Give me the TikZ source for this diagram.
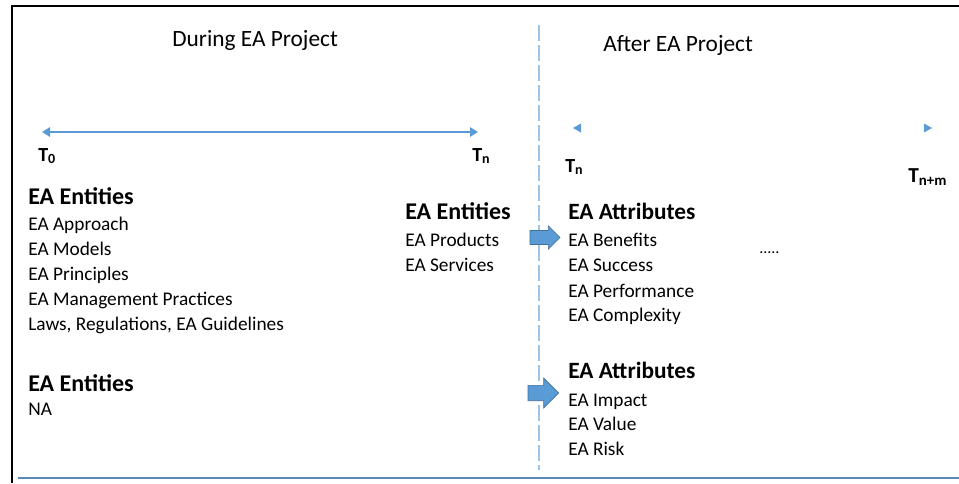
\documentclass[tikz,border=0pt]{standalone}
\usepackage{fontspec}
\setmainfont{Carlito}
\usetikzlibrary{arrows.meta, shapes.arrows}

\definecolor{lineblue}{HTML}{5B9BD5}
\definecolor{edgeblue}{HTML}{41719C}
\definecolor{paleblue}{HTML}{9DC3E6}
\definecolor{baseblue}{HTML}{5A86B8}

\begin{document}
\begin{tikzpicture}[x=0.75pt, y=-0.75pt,
    every node/.style={inner sep=0pt, anchor=base west},
    title/.style={font=\fontsize{17.5}{20}\selectfont},
    head/.style={font=\fontsize{18}{20}\selectfont\bfseries},
    item/.style={font=\fontsize{14.5}{16}\selectfont},
    tlabel/.style={font=\fontsize{15}{16}\selectfont\bfseries},
    bigarrow/.style={single arrow, fill=lineblue, draw=edgeblue, line width=0.5pt, anchor=center, inner xsep=0pt}]
    \useasboundingbox (0,0) rectangle (959,483);

    % frame
    \draw[line width=1.6pt] (12,483) -- (12,6) -- (959,6);
    \draw[baseblue, line width=1.8pt] (18,478) -- (959,478);

    % divider
    \coordinate (dtop) at (539,25);
    \coordinate (dbot) at (539,470);
    \draw[paleblue, line width=1pt, dash pattern=on 12pt off 3pt] (dtop) -- (dbot);

    \node[title] (during) at (172,46) {During EA Project};
    \node[title] (after) at (603,51) {After EA Project};

    % timeline
    \coordinate (a0) at (42,132);
    \coordinate (a1) at (478,132);
    \draw[lineblue, line width=1.6pt, {Triangle[length=6pt, width=7pt]}-{Triangle[length=6pt, width=7pt]}] (a0) -- (a1);
    \fill[lineblue] (573,128) -- (581,123.5) -- (581,132.5) -- cycle;
    \fill[lineblue] (932,128) -- (924,123.5) -- (924,132.5) -- cycle;

    \node[tlabel] (t0) at (38,161) {T\textsubscript{0}};
    \node[tlabel] (tn) at (472,161) {T\textsubscript{n}};
    \node[tlabel] (tm) at (565,172) {T\textsubscript{n}};
    \node[tlabel, font=\fontsize{16}{18}\selectfont\bfseries] (tnm) at (908,182) {T\textsubscript{n+m}};

    % during project
    \node[head] (e1) at (28,204) {EA Entities};
    \node[item] (e11) at (28,230) {EA Approach};
    \node[item] (e12) at (28,255) {EA Models};
    \node[item] (e13) at (28,280) {EA Principles};
    \node[item] (e14) at (28,305) {EA Management Practices};
    \node[item] (e15) at (28,330) {Laws, Regulations, EA Guidelines};

    \node[head] (e2) at (28,391) {EA Entities};
    \node[item] (e21) at (28,415) {NA};

    \node[head] (e3) at (405,219) {EA Entities};
    \node[item] (e31) at (405,246) {EA Products};
    \node[item] (e32) at (405,271) {EA Services};

    % after project
    \node[head, font=\fontsize{17.5}{20}\selectfont\bfseries] (a1h) at (568,219) {EA Attributes};
    \node[item] (a11) at (568,246) {EA Benefits};
    \node[item] (a12) at (568,271) {EA Success};
    \node[item] (a13) at (568,297) {EA Performance};
    \node[item] (a14) at (568,321) {EA Complexity};

    \node[head, font=\fontsize{17.5}{20}\selectfont\bfseries] (a2h) at (568,378) {EA Attributes};
    \node[item] (a21) at (568,406) {EA Impact};
    \node[item] (a22) at (568,430) {EA Value};
    \node[item] (a23) at (568,455) {EA Risk};

    \node[item, font=\fontsize{12}{14}\selectfont] (dots) at (759,253) {.....};

    \node[bigarrow, inner ysep=5pt, minimum height=22.5pt, minimum width=17pt, single arrow head extend=3.5pt] (ar1) at (541.5,237.5) {};
    \node[bigarrow, inner ysep=5.5pt, minimum height=23pt, minimum width=22pt, single arrow head extend=5.5pt] (ar2) at (539.5,393) {};
\end{tikzpicture}
\end{document}
